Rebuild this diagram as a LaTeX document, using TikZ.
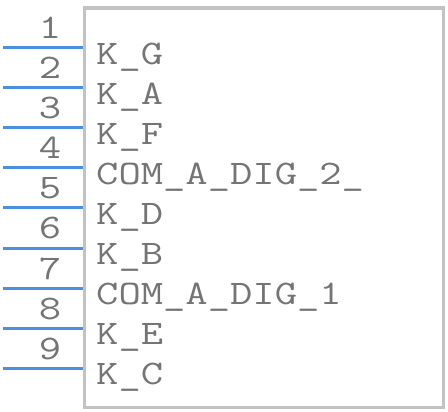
\documentclass[tikz,border=0pt]{standalone}
\usepackage{fontspec}
\setmonofont[FakeStretch=1.26]{Latin Modern Mono}
\definecolor{pinblue}{HTML}{4A8FE2}
\definecolor{boxgray}{HTML}{C2C2C2}
\definecolor{txtgray}{HTML}{747474}
\tikzset{
  pinline/.style={draw=pinblue, line width=3pt},
  bodybox/.style={draw=boxgray, line width=3.2pt},
  pinnum/.style={anchor=base, inner sep=0pt, text=txtgray, font=\fontsize{34.4pt}{40pt}\selectfont\ttfamily},
  pinlbl/.style={anchor=base west, inner sep=0pt, text=txtgray, font=\fontsize{34.4pt}{40pt}\selectfont\ttfamily}
}
\begin{document}
\begin{tikzpicture}[x=1pt,y=-1pt]
\useasboundingbox (0,0) rectangle (448,412);
\draw[bodybox] (84.5,8) rectangle (443.5,407.5);
\foreach \n/\lbl [count=\i from 0] in {1/K\_G,2/K\_A,3/K\_F,4/COM\_A\_DIG\_2\_,5/K\_D,6/K\_B,7/COM\_A\_DIG\_1,8/K\_E,9/K\_C}{
  \pgfmathsetmacro{\py}{48+40*\i}
  \coordinate (s\n) at (3,\py);
  \coordinate (e\n) at (83,\py);
  \draw[pinline] (s\n) -- (e\n);
  \node[pinnum] (n\n) at (50,\py-9) {\n};
  \node[pinlbl] (l\n) at (96,\py+16.5) {\lbl};
}
\end{tikzpicture}
\end{document}
